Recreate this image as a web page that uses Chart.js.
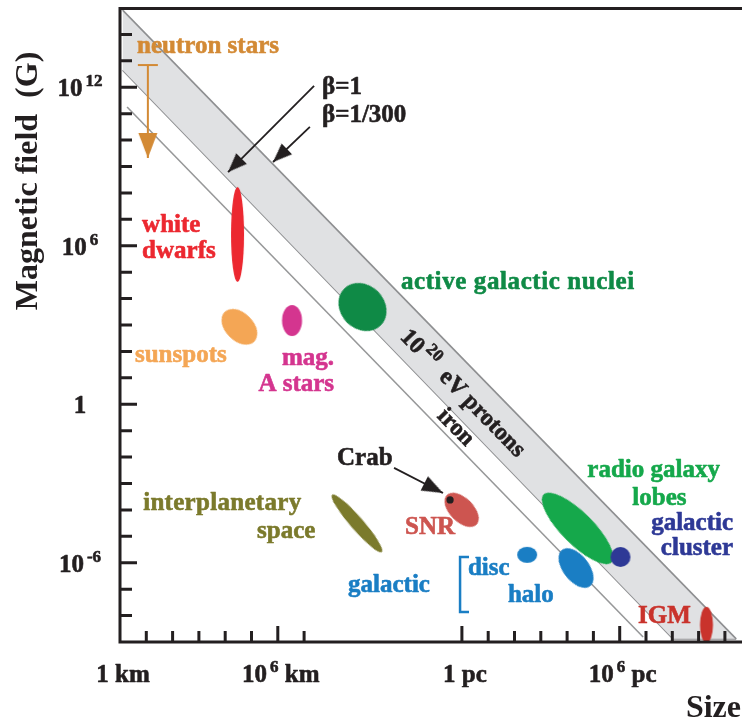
<!DOCTYPE html>
<html>
<head>
<meta charset="utf-8">
<script src="https://cdn.jsdelivr.net/npm/chart.js@4/dist/chart.umd.min.js"></script>
<style>
  html, body { margin: 0; padding: 0; background: #fff; }
  #wrap { width: 742px; height: 720px; }
</style>
</head>
<body>
<div id="wrap"><canvas id="chart" width="742" height="720"></canvas></div>
<script>
// x: log10(size / km)  (1 pc is drawn at 10^13 km), y: log10(B / gauss)
const sourceNames = ['white dwarfs', 'sunspots', 'mag. A stars', 'active galactic nuclei',
  'interplanetary space', 'SNR', 'galactic disc', 'galactic halo', 'radio galaxy lobes',
  'galactic cluster', 'IGM'];
const sourceLogSize = [4.47, 4.54, 6.54, 9.22, 9.01, 12.99, 15.48, 17.34, 17.40, 19.03, 22.30];
const sourceLogField = [6.43, 2.93, 3.17, 3.68, -4.51, -4.00, -5.70, -6.20, -4.70, -5.78, -8.35];

// Hillas band for 10^20 eV protons (beta = 1/300 upper edge, beta = 1 lower edge) and iron
const bandUpperX = [0.1, 23.43];
const bandUpperY = [14.92, -8.88];
const bandLowerX = [0.1, 21.03, 23.43];
const bandLowerY = [12.65, -8.88, -8.88];
const ironX = [0.27, 19.89];
const ironY = [11.25, -8.81];

// neutron stars upper limit, Crab
const neutronX = [1.06, 1.06];
const neutronY = [12.84, 9.32];
const crabX = [12.55];
const crabY = [-3.62];

// pointer arrows (start, tip)
const betaOneX = [7.38, 4.11];
const betaOneY = [12.05, 8.79];
const betaLowX = [7.22, 5.82];
const betaLowY = [10.50, 9.17];
const crabArrowX = [10.42, 12.28];
const crabArrowY = [-2.41, -3.36];

const discBracketX = [13.27, 12.93, 12.93, 13.27];
const discBracketY = [-5.78, -5.78, -7.86, -7.86];

// axes
const xTickValues = [0, 6, 13, 19];
const xTickLabels = ['1 km', '10^6 km', '1 pc', '10^6 pc'];
const xMinorTicks = [1, 2, 3, 4, 5, 7, 14, 15, 16, 17, 18, 20, 21, 22, 23];
const yTickValues = [12, 6, 0, -6];
const yTickLabels = ['10^12', '10^6', '1', '10^-6'];
const yMinorTicks = [14, 13, 11, 10, 9, 8, 7, 5, 4, 3, 2, 1, -1, -2, -3, -4, -5, -7, -8];

const INK = '#231f20';
const FACE = "'Liberation Serif', 'Times New Roman', serif";
const MAIN_FONT = 'bold 25px ' + FACE;
const SUP_FONT = 'bold 17px ' + FACE;

const sourceStyle = [
  {color: '#ec2830', rx: 6.5, ry: 47.5, rot: 0},
  {color: '#f4a655', rx: 21, ry: 14, rot: 45},
  {color: '#d4358f', rx: 10, ry: 15.5, rot: 0},
  {color: '#0f8a46', rx: 26, ry: 22, rot: 45},
  {color: '#7b7a2c', rx: 38, ry: 6.5, rot: 49},
  {color: '#cd5550', rx: 21, ry: 12, rot: 45},
  {color: '#1a7ec4', rx: 10, ry: 8, rot: 0},
  {color: '#1a7ec4', rx: 23, ry: 13, rot: 52},
  {color: '#15a84b', rx: 48, ry: 16, rot: 45},
  {color: '#2e3996', rx: 10, ry: 10, rot: 0},
  {color: '#c9332c', rx: 6.5, ry: 18, rot: 0},
];

const notes = [
  {text: 'neutron stars', x: 0.65, y: 13.30, color: '#d38a35'},
  {text: 'β=1', x: 7.68, y: 11.75, color: INK},
  {text: 'β=1/300', x: 7.68, y: 10.69, color: INK},
  {text: 'white', x: 0.84, y: 6.52, color: '#ec2830'},
  {text: 'dwarfs', x: 0.84, y: 5.54, color: '#ec2830'},
  {text: 'sunspots', x: 0.57, y: 1.60, color: '#f4a655'},
  {text: 'mag.', x: 8.14, y: 1.49, color: '#d4358f', align: 'right'},
  {text: 'A stars', x: 8.14, y: 0.50, color: '#d4358f', align: 'right'},
  {text: 'active galactic nuclei', x: 10.68, y: 4.36, color: '#0f8a46', spacing: 0.6},
  {text: 'interplanetary', x: 0.88, y: -4.0, color: '#7b7a2c', spacing: 0.3},
  {text: 'space', x: 5.21, y: -5.06, color: '#7b7a2c'},
  {text: 'Crab', x: 8.25, y: -2.30, color: INK},
  {text: 'SNR', x: 10.84, y: -4.91, color: '#cd5550'},
  {text: 'galactic', x: 8.67, y: -7.10, color: '#1a7ec4'},
  {text: 'disc', x: 13.23, y: -6.46, color: '#1a7ec4'},
  {text: 'halo', x: 14.75, y: -7.48, color: '#1a7ec4'},
  {text: 'radio galaxy', x: 20.29, y: -2.75, color: '#15a84b', align: 'center'},
  {text: 'lobes', x: 20.51, y: -3.81, color: '#15a84b', align: 'center'},
  {text: 'galactic', x: 23.31, y: -4.76, color: '#2e3996', align: 'right'},
  {text: 'cluster', x: 23.31, y: -5.70, color: '#2e3996', align: 'right'},
  {text: 'IGM', x: 19.70, y: -8.28, color: '#c9332c'},
  {text: '10^20  eV protons', x: 12.85, y: 0.24, color: INK, align: 'center', alongBand: true},
  {text: 'iron', x: 12.59, y: -1.05, color: INK, align: 'center', alongBand: true},
];

const pts = (xs, ys) => xs.map((x, i) => ({x: x, y: ys[i]}));

function ellipseImage(s) {
  const size = Math.ceil(2 * Math.max(s.rx, s.ry) + 4);
  const c = document.createElement('canvas');
  c.width = size;
  c.height = size;
  const g = c.getContext('2d');
  g.fillStyle = s.color;
  g.beginPath();
  g.ellipse(size / 2, size / 2, s.rx, s.ry, 0, 0, Math.PI * 2);
  g.fill();
  return c;
}

// arrow head pointing up with its tip at the canvas centre
function arrowHead(color, len, width) {
  const size = Math.ceil(len * 2 + 4);
  const c = document.createElement('canvas');
  c.width = size;
  c.height = size;
  const g = c.getContext('2d');
  const m = size / 2;
  g.fillStyle = color;
  g.beginPath();
  g.moveTo(m, m);
  g.lineTo(m - width / 2, m + len);
  g.lineTo(m + width / 2, m + len);
  g.closePath();
  g.fill();
  return c;
}

function tipAngle(ctx) {
  const data = ctx.dataset.data;
  if (ctx.dataIndex !== data.length - 1) return 0;
  const {x, y} = ctx.chart.scales;
  const a = data[data.length - 2], b = data[data.length - 1];
  const dx = x.getPixelForValue(b.x) - x.getPixelForValue(a.x);
  const dy = y.getPixelForValue(b.y) - y.getPixelForValue(a.y);
  return Math.atan2(dx, -dy) * 180 / Math.PI;
}

function arrowDataset(xs, ys, color, head, width) {
  return {
    data: pts(xs, ys),
    showLine: true,
    borderColor: color,
    borderWidth: width,
    pointRadius: [0, 1],
    pointStyle: [false, head],
    rotation: tipAngle,
    clip: false,
    order: 1,
  };
}

// "10^6 km" -> [['10', false], ['6', true], [' km', false]]
function richParts(str) {
  const i = str.indexOf('^');
  if (i < 0) return [[str, false]];
  const rest = str.slice(i + 1);
  const sp = rest.indexOf(' ');
  const sup = sp < 0 ? rest : rest.slice(0, sp);
  const parts = [[str.slice(0, i), false], [sup, true]];
  if (sp >= 0) parts.push([rest.slice(sp), false]);
  return parts;
}

// the source lettering is heavier than Liberation Serif bold, so add a thin outline
function drawRich(ctx, str, x, y, align, mainFont, supFont, spacing) {
  const parts = richParts(str);
  const gap = 3;
  ctx.letterSpacing = (spacing || 0) + 'px';
  let w = 0;
  parts.forEach(([t, sup]) => {
    ctx.font = sup ? supFont : mainFont;
    w += ctx.measureText(t).width + (sup ? gap : 0);
  });
  let cx = align === 'center' ? x - w / 2 : align === 'right' ? x - w : x;
  ctx.textAlign = 'left';
  ctx.textBaseline = 'alphabetic';
  ctx.strokeStyle = ctx.fillStyle;
  ctx.lineWidth = 0.6;
  ctx.lineJoin = 'round';
  parts.forEach(([t, sup]) => {
    ctx.font = sup ? supFont : mainFont;
    if (sup) cx += gap;
    const ty = sup ? y - 10 : y;
    ctx.fillText(t, cx, ty);
    ctx.strokeText(t, cx, ty);
    cx += ctx.measureText(t).width;
  });
  ctx.letterSpacing = '0px';
}

const hillasFrame = {
  id: 'hillasFrame',
  afterDatasetsDraw(chart) {
    const {ctx, chartArea: a, scales: {x, y}} = chart;
    ctx.save();
    ctx.strokeStyle = INK;
    ctx.fillStyle = INK;
    ctx.lineWidth = 3;
    ctx.lineJoin = 'miter';
    ctx.beginPath();
    ctx.moveTo(a.right, a.top + 0.5);
    ctx.lineTo(a.left, a.top + 0.5);
    ctx.lineTo(a.left, a.bottom);
    ctx.lineTo(a.right, a.bottom);
    ctx.stroke();

    ctx.beginPath();
    yTickValues.forEach((v) => {
      const py = y.getPixelForValue(v);
      ctx.moveTo(a.left, py);
      ctx.lineTo(a.left + 17, py);
    });
    yMinorTicks.forEach((v) => {
      const py = y.getPixelForValue(v);
      ctx.moveTo(a.left, py);
      ctx.lineTo(a.left + 12, py);
    });
    xTickValues.forEach((v) => {
      if (v === 0) return;
      const px = x.getPixelForValue(v);
      ctx.moveTo(px, a.bottom);
      ctx.lineTo(px, a.bottom - 16);
    });
    xMinorTicks.forEach((v) => {
      const px = x.getPixelForValue(v);
      ctx.moveTo(px, a.bottom);
      ctx.lineTo(px, a.bottom - 11);
    });
    ctx.stroke();

    // tick labels
    yTickValues.forEach((v, i) => {
      drawRich(ctx, yTickLabels[i], 80, y.getPixelForValue(v) + 9, 'center', MAIN_FONT, SUP_FONT);
    });
    xTickValues.forEach((v, i) => {
      drawRich(ctx, xTickLabels[i], x.getPixelForValue(v) + 3, a.bottom + 40, 'center', MAIN_FONT, SUP_FONT);
    });

    // axis titles
    ctx.font = 'bold 32px ' + FACE;
    ctx.textAlign = 'right';
    ctx.fillText('Size', 741, 717);
    ctx.save();
    ctx.translate(37, 181);
    ctx.rotate(-Math.PI / 2);
    ctx.textAlign = 'center';
    ctx.fillText('Magnetic field  (G)', 0, 0);
    ctx.restore();

    // annotations
    const bx0 = x.getPixelForValue(bandUpperX[0]), by0 = y.getPixelForValue(bandUpperY[0]);
    const bx1 = x.getPixelForValue(bandUpperX[1]), by1 = y.getPixelForValue(bandUpperY[1]);
    const bandAngle = Math.atan2(by1 - by0, bx1 - bx0);
    notes.forEach((n) => {
      ctx.fillStyle = n.color;
      const px = x.getPixelForValue(n.x), py = y.getPixelForValue(n.y);
      if (n.alongBand) {
        ctx.save();
        ctx.translate(px, py);
        ctx.rotate(bandAngle);
        drawRich(ctx, n.text, 0, 0, 'center', 'bold 24px ' + FACE, 'bold 17px ' + FACE);
        ctx.restore();
      } else {
        drawRich(ctx, n.text, px, py, n.align || 'left', MAIN_FONT, SUP_FONT, n.spacing);
      }
    });
    ctx.restore();
  },
};

const blackHead = arrowHead(INK, 19, 15);
const crabHead = arrowHead(INK, 21, 16);
const neutronHead = arrowHead('#d38a35', 25, 19);

new Chart(document.getElementById('chart'), {
  type: 'scatter',
  data: {
    datasets: [
      {
        label: 'Crab',
        data: pts(crabX, crabY),
        pointRadius: 3.6,
        pointBackgroundColor: INK,
        pointBorderWidth: 0,
        order: 0,
      },
      arrowDataset(betaOneX, betaOneY, INK, blackHead, 1.8),
      arrowDataset(betaLowX, betaLowY, INK, blackHead, 1.8),
      arrowDataset(crabArrowX, crabArrowY, INK, crabHead, 1.8),
      {
        label: 'neutron stars',
        data: pts(neutronX, neutronY),
        showLine: true,
        borderColor: '#d38a35',
        borderWidth: 2,
        pointRadius: [10, 1],
        pointStyle: ['line', neutronHead],
        pointBorderColor: '#d38a35',
        pointBorderWidth: 2,
        rotation: tipAngle,
        order: 1,
      },
      {
        label: 'sources',
        data: pts(sourceLogSize, sourceLogField),
        pointRadius: 5,
        pointStyle: sourceStyle.map(ellipseImage),
        rotation: sourceStyle.map((s) => s.rot),
        clip: false,
        order: 2,
      },
      {
        label: 'disc bracket',
        data: pts(discBracketX, discBracketY),
        showLine: true,
        borderColor: '#1a7ec4',
        borderWidth: 2.5,
        borderJoinStyle: 'miter',
        pointRadius: 0,
        order: 3,
      },
      {
        label: 'iron',
        data: pts(ironX, ironY),
        showLine: true,
        borderColor: '#979899',
        borderWidth: 1.6,
        pointRadius: 0,
        order: 8,
      },
      {
        label: 'beta = 1/300',
        data: pts(bandUpperX, bandUpperY),
        showLine: true,
        borderColor: '#8e8f91',
        borderWidth: 1.6,
        backgroundColor: '#e0e1e3',
        fill: '+1',
        pointRadius: 0,
        order: 9,
      },
      {
        label: 'beta = 1',
        data: pts(bandLowerX, bandLowerY),
        showLine: true,
        borderColor: '#8e8f91',
        borderWidth: 1.6,
        pointRadius: 0,
        order: 9,
      },
    ],
  },
  options: {
    responsive: false,
    animation: false,
    events: [],
    layout: {autoPadding: false, padding: {left: 120, right: 0, top: 8, bottom: 78}},
    scales: {
      x: {type: 'linear', min: 0, max: 23.65, display: false},
      y: {type: 'linear', min: -9, max: 15, display: false},
    },
    plugins: {
      legend: {display: false},
      tooltip: {enabled: false},
    },
  },
  plugins: [hillasFrame],
});
</script>
</body>
</html>
